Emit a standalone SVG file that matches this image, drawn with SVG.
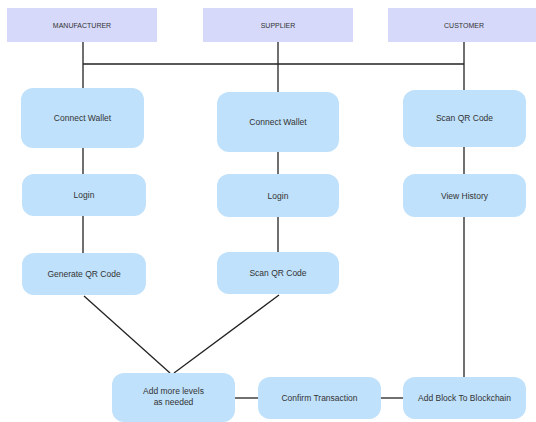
<svg xmlns="http://www.w3.org/2000/svg" width="536" height="422" viewBox="0 0 536 422">
<style>
.hdr{fill:#d6d9fa;}
.node{fill:#bfe1fb;}
.ht{font-family:"Liberation Sans",Arial,sans-serif;font-size:7px;fill:#333;text-anchor:middle;dominant-baseline:central;}
.nt{font-family:"Liberation Sans",Arial,sans-serif;font-size:8.5px;fill:#333;text-anchor:middle;dominant-baseline:central;}
.ln{stroke:#222;stroke-width:1.3;fill:none;}
</style>
<rect width="536" height="422" fill="#ffffff"/>
<g id="connectors" class="ln">
<line x1="83" y1="42" x2="83" y2="88"/>
<line x1="278" y1="42" x2="278" y2="92"/>
<line x1="464" y1="42" x2="464" y2="90"/>
<line x1="83" y1="64" x2="464" y2="64"/>
<line x1="83" y1="148" x2="83" y2="174"/>
<line x1="83" y1="216" x2="83" y2="253"/>
<line x1="278" y1="152" x2="278" y2="174"/>
<line x1="278" y1="217" x2="278" y2="252"/>
<line x1="464" y1="147" x2="464" y2="174"/>
<line x1="464" y1="217" x2="464" y2="377"/>
<line x1="84" y1="296" x2="170" y2="373"/>
<line x1="279" y1="295" x2="174" y2="373"/>
<line x1="235" y1="398" x2="258" y2="398"/>
<line x1="381" y1="398" x2="403" y2="398"/>
</g>
<g id="manufacturer"><rect class="hdr" x="7" y="8" width="150" height="34"/><text class="ht" x="82" y="25">MANUFACTURER</text></g>
<g id="supplier"><rect class="hdr" x="203" y="8" width="150" height="34"/><text class="ht" x="278" y="25">SUPPLIER</text></g>
<g id="customer"><rect class="hdr" x="388" y="8" width="148" height="34"/><text class="ht" x="464" y="25">CUSTOMER</text></g>
<g id="m-connect"><rect class="node" x="21" y="88" width="123" height="60" rx="12"/><text class="nt" x="82.5" y="118">Connect Wallet</text></g>
<g id="m-login"><rect class="node" x="22" y="174" width="124" height="42" rx="12"/><text class="nt" x="84" y="195">Login</text></g>
<g id="m-genqr"><rect class="node" x="22" y="253" width="124" height="42" rx="12"/><text class="nt" x="84" y="274">Generate QR Code</text></g>
<g id="s-connect"><rect class="node" x="217" y="92" width="122" height="60" rx="12"/><text class="nt" x="278" y="122">Connect Wallet</text></g>
<g id="s-login"><rect class="node" x="217" y="174" width="122" height="43" rx="12"/><text class="nt" x="278" y="195.5">Login</text></g>
<g id="s-scan"><rect class="node" x="217" y="252" width="122" height="42" rx="12"/><text class="nt" x="278" y="273">Scan QR Code</text></g>
<g id="c-scan"><rect class="node" x="403" y="90" width="123" height="57" rx="12"/><text class="nt" x="464.5" y="118">Scan QR Code</text></g>
<g id="c-history"><rect class="node" x="403" y="174" width="123" height="43" rx="12"/><text class="nt" x="464.5" y="195.5">View History</text></g>
<g id="add-levels"><rect class="node" x="112" y="373" width="123" height="49" rx="12"/><text class="nt" x="173.5" y="391">Add more levels</text><text class="nt" x="173.5" y="402">as needed</text></g>
<g id="confirm"><rect class="node" x="258" y="377" width="123" height="42" rx="12"/><text class="nt" x="319.5" y="398">Confirm Transaction</text></g>
<g id="add-block"><rect class="node" x="403" y="377" width="123" height="42" rx="12"/><text class="nt" x="464.5" y="398">Add Block To Blockchain</text></g>
</svg>
